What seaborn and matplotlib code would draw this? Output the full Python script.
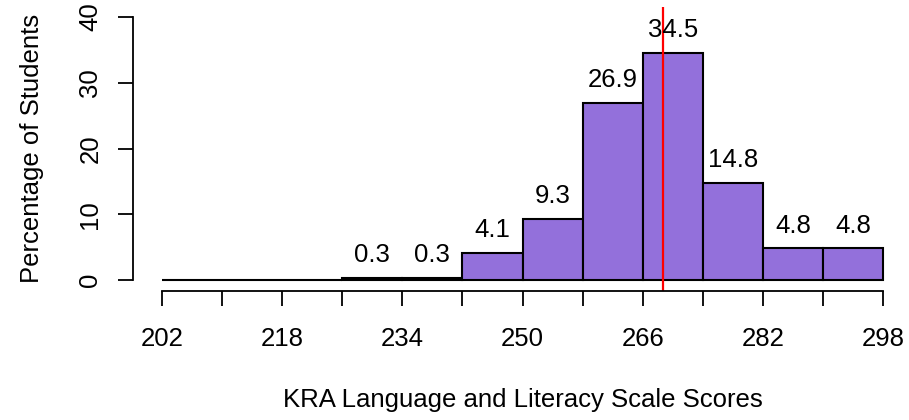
import matplotlib; matplotlib.use("Agg")
import matplotlib.pyplot as plt
import seaborn as sns
import numpy as np

# histogram data: bin edges and percentage of students per bin
bin_edges = [202, 210, 218, 226, 234, 242, 250, 258, 266, 274, 282, 290, 298]
pct_students = [0, 0, 0, 0.3, 0.3, 4.1, 9.3, 26.9, 34.5, 14.8, 4.8, 4.8]
y_ticks = [0, 10, 20, 30, 40]
mean_score = 268.7

sns.set_style("white")
plt.rcParams["font.family"] = ["Liberation Sans", "DejaVu Sans"]
plt.rcParams["text.color"] = "black"
plt.rcParams["axes.labelcolor"] = "black"
plt.rcParams["xtick.color"] = "black"
plt.rcParams["ytick.color"] = "black"
FS = 18.5

fig = plt.figure(figsize=(9.09, 4.2), dpi=100)
W, H = 909, 420
ax = fig.add_axes([133 / W, (H - 290.5) / H, (912 - 133) / W, (290.5 - 6.5) / H])

centers = [(a + b) / 2 for a, b in zip(bin_edges[:-1], bin_edges[1:])]
sns.histplot(x=centers, weights=pct_students, bins=bin_edges, stat="count",
             color="#9370DB", edgecolor="black", linewidth=1.5, alpha=1, ax=ax)

# value labels above non-empty bars
for c, v in zip(centers, pct_students):
    if v > 0:
        ax.annotate(f"{v:.1f}", (c, v), xytext=(0, 16.5), textcoords="offset points",
                    ha="center", va="center", fontsize=FS)

ax.axvline(mean_score, color="red", lw=1.6)

ax.set_xlim(198.16, 301.84)
ax.set_ylim(-1.6, 41.6)

ax.set_xticks(bin_edges)
ax.set_xticklabels([str(e) if i % 2 == 0 else "" for i, e in enumerate(bin_edges)],
                   fontsize=FS)
ax.set_yticks(y_ticks)
ax.set_yticklabels([str(t) for t in y_ticks], fontsize=FS, rotation=90, va="center")

ax.spines["top"].set_visible(False)
ax.spines["right"].set_visible(False)
ax.spines["bottom"].set_bounds(202, 298)
ax.spines["left"].set_bounds(0, 40)
for s in ("bottom", "left"):
    ax.spines[s].set_linewidth(1.3)
    ax.spines[s].set_color("black")
ax.tick_params(axis="both", length=11, width=1.3, color="black", direction="out",
               bottom=True, left=True)
ax.tick_params(axis="x", pad=15)
ax.tick_params(axis="y", pad=11)

ax.set_xlabel("KRA Language and Literacy Scale Scores", fontsize=FS, labelpad=27)
ax.set_ylabel("Percentage of Students", fontsize=FS, labelpad=25)

fig.savefig("out.png", dpi=100)
